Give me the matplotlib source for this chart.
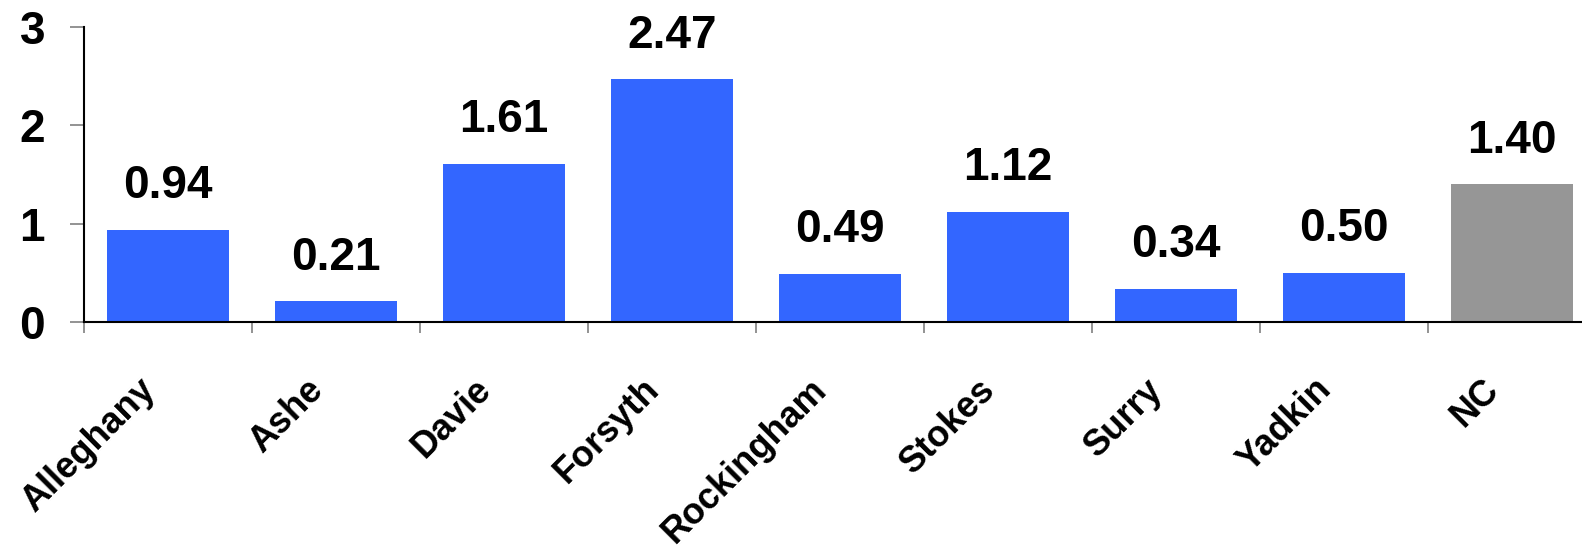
import matplotlib
matplotlib.use("Agg")
import matplotlib.pyplot as plt
import matplotlib.transforms as mtransforms
import numpy as np

# ----------------------------
# data
# ----------------------------
counties = ["Alleghany", "Ashe", "Davie", "Forsyth", "Rockingham",
            "Stokes", "Surry", "Yadkin", "NC"]
values = [0.94, 0.21, 1.61, 2.47, 0.49, 1.12, 0.34, 0.50, 1.40]
yticks = [0, 1, 2, 3]

BLUE = "#3366FF"
GRAY = "#969696"

plt.rcParams["font.family"] = ["Liberation Sans", "DejaVu Sans"]
plt.rcParams["font.weight"] = "bold"

fig = plt.figure(figsize=(15.82, 5.45), dpi=100)
ax = fig.add_axes([84 / 1582, 223 / 545, 1512 / 1582, 295 / 545])

x = np.arange(len(counties))
colors = [GRAY if c == "NC" else BLUE for c in counties]
bars = ax.bar(x, values, width=0.73, color=colors, zorder=2)

# value labels above bars
for b, v in zip(bars, values):
    ax.annotate(f"{v:.2f}", (b.get_x() + b.get_width() / 2, v),
                xytext=(0, 22.7), textcoords="offset points",
                ha="center", va="baseline", fontsize=33, fontweight="bold")

ax.set_xlim(-0.5, len(counties) - 0.5)
ax.set_ylim(0, 3)

# axes styling
for s in ["top", "right"]:
    ax.spines[s].set_visible(False)
for s in ["left", "bottom"]:
    ax.spines[s].set_linewidth(1.5)
    ax.spines[s].set_color("black")

ax.set_yticks(yticks)
ax.set_yticklabels([str(t) for t in yticks], fontsize=33, fontweight="bold")
ax.tick_params(axis="y", direction="out", length=10, width=1.2,
               color="#808080", pad=18)

# category labels at centers, separator ticks between categories
ax.set_xticks(x)
ax.set_xticklabels(counties, rotation=45, ha="right", va="top",
                   fontsize=26, fontweight="bold")
ax.tick_params(axis="x", which="major", length=0, pad=36)
ax.set_xticks(np.arange(-0.5, len(counties), 1.0), minor=True)
ax.tick_params(axis="x", which="minor", direction="out", length=8,
               width=1.2, color="#808080")

shift = mtransforms.ScaledTranslation(-0.06, 0, fig.dpi_scale_trans)
for lab in ax.get_xticklabels():
    lab.set_transform(lab.get_transform() + shift)

fig.savefig("out.png", dpi=100)
